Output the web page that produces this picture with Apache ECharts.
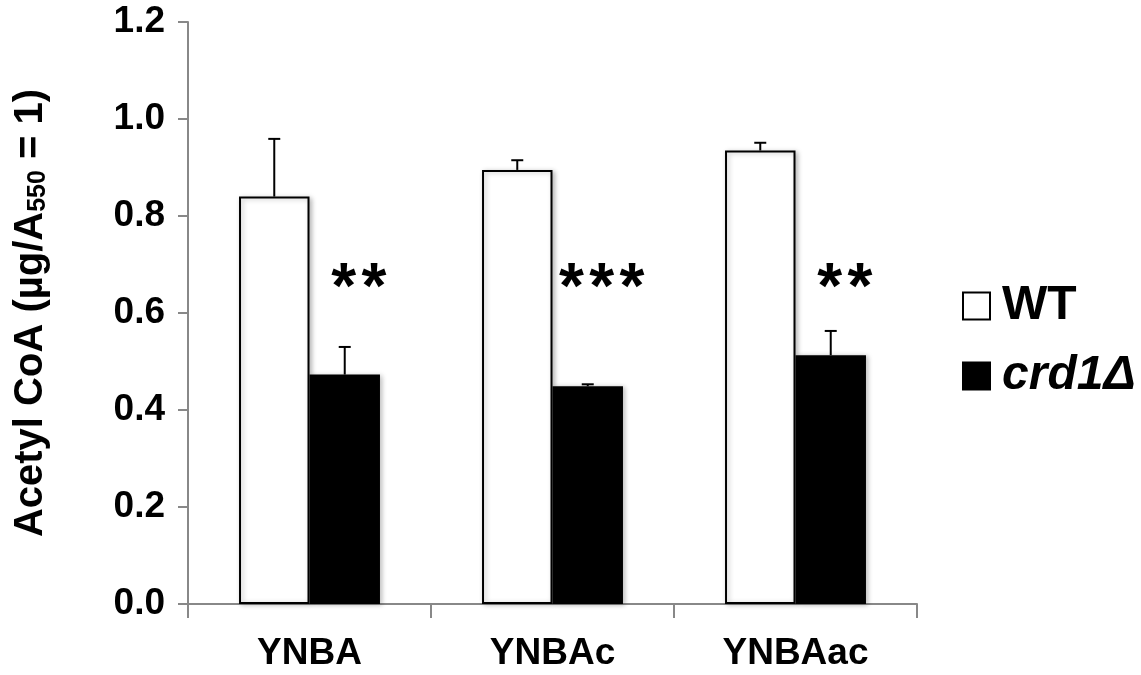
<!DOCTYPE html>
<html>
<head>
<meta charset="utf-8">
<script src="https://cdn.jsdelivr.net/npm/echarts@6/dist/echarts.min.js"></script>
<style>
html,body{margin:0;padding:0;background:#fff;}
#chart{width:1141px;height:675px;}
</style>
</head>
<body>
<div id="chart"></div>
<script>
const categories = ['YNBA', 'YNBAc', 'YNBAac'];
const wtValues = [0.84, 0.895, 0.935];
const wtErrors = [0.119, 0.02, 0.016];
const crdValues = [0.473, 0.449, 0.513];
const crdErrors = [0.057, 0.004, 0.05];
const sigLabels = ['**', '***', '**'];
const sigLevel = 0.68;
const yTicks = [0, 0.2, 0.4, 0.6, 0.8, 1.0, 1.2];

const FONT = '"Liberation Sans", Arial, Helvetica, sans-serif';
const BAR_RATIO = 0.29;

const chart = echarts.init(document.getElementById('chart'));

function errRender(sign) {
  return function (params, api) {
    const idx = api.value(0);
    const v = api.value(1);
    const e = api.value(2);
    const base = api.coord([idx, v]);
    const top = api.coord([idx, v + e]);
    const band = api.size([1, 0])[0];
    const x = base[0] + sign * band * BAR_RATIO / 2;
    const cap = 6;
    const st = { stroke: '#000', lineWidth: 2 };
    return {
      type: 'group',
      children: [
        { type: 'line', shape: { x1: x, y1: base[1], x2: x, y2: top[1] }, style: st },
        { type: 'line', shape: { x1: x - cap, y1: top[1], x2: x + cap, y2: top[1] }, style: st }
      ]
    };
  };
}

function sigRender(params, api) {
  const idx = api.value(0);
  const p = api.coord([idx, api.value(1)]);
  const band = api.size([1, 0])[0];
  return {
    type: 'text',
    style: {
      text: sigLabels[params.dataIndex].split('').join('\u200A'),
      x: p[0] + band * BAR_RATIO / 2 + 14,
      y: p[1] + 16,
      fill: '#000',
      font: 'bold 64px ' + FONT,
      align: 'center',
      verticalAlign: 'middle'
    }
  };
}

const option = {
  animation: false,
  backgroundColor: '#fff',
  grid: { left: 188, right: 224, top: 22, bottom: 71, containLabel: false },
  legend: {
    orient: 'vertical',
    left: 957,
    top: 277,
    itemWidth: 27,
    itemHeight: 27,
    itemGap: 22,
    icon: 'rect',
    data: ['WT', 'crd1Δ'],
    formatter: function (name) { return name === 'WT' ? '{n|WT}' : '{i|crd1Δ}'; },
    textStyle: {
      rich: {
        n: { fontFamily: FONT, fontSize: 48, fontWeight: 'bold', color: '#000', lineHeight: 48, padding: [0, 0, 0, 7] },
        i: { fontFamily: FONT, fontSize: 48, fontWeight: 'bold', fontStyle: 'italic', color: '#000', lineHeight: 48, padding: [0, 0, 0, 7] }
      }
    }
  },
  xAxis: {
    type: 'category',
    data: categories,
    axisLine: { lineStyle: { color: '#888', width: 2 } },
    axisTick: { show: true, length: 14, lineStyle: { color: '#888', width: 2 } },
    axisLabel: { fontFamily: FONT, fontSize: 37, fontWeight: 'bold', color: '#000', margin: 31 }
  },
  yAxis: {
    type: 'value',
    min: 0,
    max: 1.2,
    interval: 0.2,
    name: 'Acetyl CoA (µg/A{sub|550} = 1)',
    nameLocation: 'middle',
    nameGap: 137,
    nameRotate: 90,
    nameTextStyle: {
      fontFamily: FONT, fontSize: 40, fontWeight: 'bold', color: '#000',
      rich: {
        sub: { fontFamily: FONT, fontSize: 25, fontWeight: 'bold', color: '#000', verticalAlign: 'bottom', padding: [15, 0, 0, 0] }
      }
    },
    axisLine: { show: true, lineStyle: { color: '#888', width: 2 } },
    axisTick: { show: true, length: 10, lineStyle: { color: '#888', width: 2 } },
    splitLine: { show: false },
    axisLabel: {
      fontFamily: FONT, fontSize: 37, fontWeight: 'bold', color: '#000', margin: 23,
      formatter: function (v) {
        const t = yTicks.find(function (k) { return Math.abs(k - v) < 1e-9; });
        return (t !== undefined ? t : v).toFixed(1);
      }
    }
  },
  series: [
    {
      name: 'WT', type: 'bar', data: wtValues, barWidth: (BAR_RATIO * 100) + '%', barGap: '0%',
      itemStyle: { color: '#fff', borderColor: '#000', borderWidth: 2, shadowBlur: 5, shadowColor: 'rgba(0,0,0,0.25)', shadowOffsetX: 2, shadowOffsetY: 1 }
    },
    {
      name: 'crd1Δ', type: 'bar', data: crdValues, barWidth: (BAR_RATIO * 100) + '%', barGap: '0%',
      itemStyle: { color: '#000', borderColor: '#000', borderWidth: 2, shadowBlur: 5, shadowColor: 'rgba(0,0,0,0.25)', shadowOffsetX: 2, shadowOffsetY: 1 }
    },
    {
      type: 'custom', renderItem: errRender(-1), z: 5,
      data: wtValues.map(function (v, i) { return [i, v, wtErrors[i]]; })
    },
    {
      type: 'custom', renderItem: errRender(1), z: 5,
      data: crdValues.map(function (v, i) { return [i, v, crdErrors[i]]; })
    },
    {
      type: 'custom', renderItem: sigRender, z: 6,
      data: sigLabels.map(function (s, i) { return [i, sigLevel]; })
    }
  ]
};

chart.setOption(option);
</script>
</body>
</html>
